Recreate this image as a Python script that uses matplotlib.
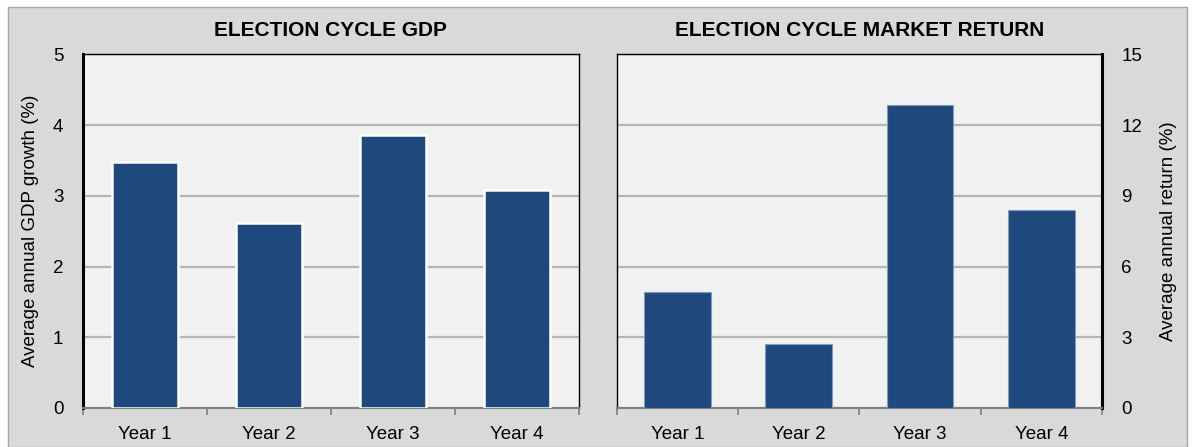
import matplotlib
matplotlib.use("Agg")
import matplotlib.pyplot as plt
from matplotlib.patches import Rectangle
import numpy as np

categories = ["Year 1", "Year 2", "Year 3", "Year 4"]
gdp_growth = [3.48, 2.61, 3.86, 3.08]
market_return = [4.9, 2.7, 12.85, 8.4]
gdp_ticks = [0, 1, 2, 3, 4, 5]
ret_ticks = [0, 3, 6, 9, 12, 15]

plt.rcParams['font.family'] = ['Liberation Sans', 'DejaVu Sans']

W, H = 1194, 447
fig = plt.figure(figsize=(W / 100, H / 100), dpi=100)
fig.patch.set_facecolor('white')
bg = Rectangle((8 / W, 0), (1187 - 8) / W, (H - 7) / H,
               transform=fig.transFigure, facecolor='#d9d9d9',
               edgecolor='#a6a6a6', linewidth=1.0, zorder=-10)
fig.add_artist(bg)

bar_color = '#1F497D'
plot_bg = '#f1f1f1'
grid_color = '#b5b5b5'
tick_fs = 13.5

def style_axis(ax, thick_side):
    ax.set_facecolor(plot_bg)
    for s in ['top', 'left', 'right']:
        ax.spines[s].set_color('black')
        ax.spines[s].set_linewidth(1.0)
    ax.spines[thick_side].set_linewidth(2.2)
    ax.spines['bottom'].set_color('#808080')
    ax.spines['bottom'].set_linewidth(1.5)
    ax.set_axisbelow(True)
    ax.yaxis.grid(True, color=grid_color, linewidth=1.6)
    x = np.arange(len(categories))
    ax.set_xlim(-0.5, len(categories) - 0.5)
    ax.set_xticks(x)
    ax.set_xticklabels(categories, fontsize=tick_fs)
    ax.set_xticks(np.arange(len(categories) + 1) - 0.5, minor=True)
    ax.tick_params(axis='x', which='major', length=0, pad=13)
    ax.tick_params(axis='x', which='minor', length=5, color='#808080', width=1.2)
    ax.tick_params(axis='y', length=0, labelsize=tick_fs, pad=14)

ax1 = fig.add_axes([82.7 / W, 1 - 408 / H, (578.7 - 82.7) / W, (408 - 54.3) / H])
x = np.arange(len(categories))
ax1.bar(x, gdp_growth, width=0.53, color=bar_color, edgecolor='white', linewidth=1.8, zorder=3)
ax1.set_ylim(0, 5)
ax1.set_yticks(gdp_ticks)
style_axis(ax1, 'left')
ax1.set_ylabel("Average annual GDP growth (%)", fontsize=13.5, labelpad=10)
ax1.set_title("ELECTION CYCLE GDP", fontsize=15, fontweight='bold', pad=13)

ax2 = fig.add_axes([616.7 / W, 1 - 408 / H, (1102 - 616.7) / W, (408 - 54.3) / H])
ax2.bar(x, market_return, width=0.55, color=bar_color, edgecolor='#7f9cc0', linewidth=0.8, zorder=3)
ax2.set_ylim(0, 15)
ax2.set_yticks(ret_ticks)
style_axis(ax2, 'right')
ax2.yaxis.tick_right()
ax2.yaxis.set_label_position('right')
ax2.tick_params(axis='y', length=0, labelsize=tick_fs, pad=14)
ax2.set_ylabel("Average annual return (%)", fontsize=13.5, labelpad=13, rotation=90)
ax2.set_title("ELECTION CYCLE MARKET RETURN", fontsize=15, fontweight='bold', pad=13)

fig.savefig("out.png", dpi=100, facecolor=fig.get_facecolor())
